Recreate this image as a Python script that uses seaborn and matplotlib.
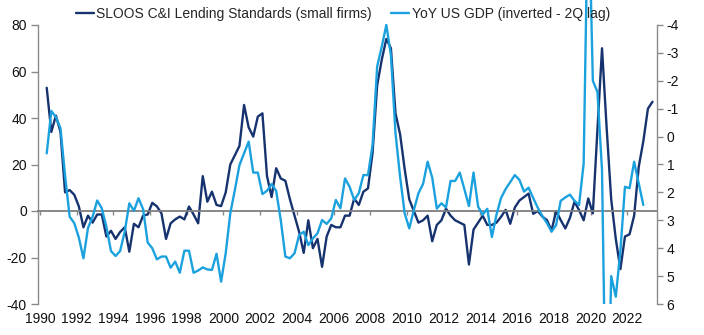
import numpy as np
import pandas as pd
import matplotlib
matplotlib.use("Agg")
import matplotlib.pyplot as plt
from matplotlib.patches import Rectangle
import seaborn as sns

# ---------------- data ----------------
sloos_quarters = pd.period_range("1990Q2", "2023Q2", freq="Q")
sloos_small_firms = [
    53, 34, 41, 34, 8, 9, 7, 2, -7, -2, -5, -1.5, -1.5, -11, -8.5, -12,
    -9, -7, -17.5, -5.5, -7, -2, -1.5, 3.5, 2, -1, -12, -5.3, -3.6, -2.4, -3.6, 1.9,
    -1.5, -5.3, 15, 4, 8.3, 2.6, 2.1, 8, 20, 24, 28, 45.6, 36, 32, 40.6, 42,
    15, 6, 18.4, 14, 13, 5, -2, -9, -18, -4, -16, -12, -24, -11, -6, -7,
    -7, -2, -2, 5.4, 2.6, 8.3, 9.7, 25, 54, 65, 74, 70, 42, 33, 18, 5,
    0, -5, -4, -2, -13, -6, -4, 1, -2, -4, -5, -6, -23, -8, -5, -2,
    -6, -6, -5, -2.5, 0.5, -5.5, 1.5, 4.5, 6, 7.5, -1.2, 0, -2.4, -3.9, -8.4, 0,
    -3.9, -7.5, -3, 4, 0.4, -4, 5.4, -1, 35, 70, 36, 5, -12, -25, -11, -10,
    -2, 19, 30, 44, 47,
]

gdp_quarters = pd.period_range("1990Q2", "2022Q4", freq="Q")
gdp_yoy_lead2q = [
    0.6, -0.92, -0.7, -0.3, 1.4, 2.87, 3.1, 3.62, 4.36, 3.27, 2.87, 2.29, 2.57, 3.23, 4.1, 4.28,
    4.1, 3.4, 2.39, 2.66, 2.21, 2.6, 3.8, 4.0, 4.4, 4.3, 4.3, 4.7, 4.48, 4.88, 4.09, 4.09,
    4.88, 4.8, 4.69, 4.76, 4.78, 4.2, 5.2, 4.18, 2.75, 1.91, 1.02, 0.6, 0.18, 1.29, 1.29, 2.06,
    1.94, 1.7, 1.95, 3.0, 4.3, 4.36, 4.18, 3.53, 3.41, 3.89, 3.65, 3.47, 2.99, 3.13, 2.93, 2.27,
    2.57, 1.5, 1.8, 2.27, 2.03, 1.38, 1.38, 0.3, -2.51, -3.22, -4.0, -2.92, -0.12, 1.44, 2.75, 3.29,
    2.63, 2.03, 1.7, 0.9, 1.47, 2.58, 2.39, 2.54, 1.59, 1.59, 1.29, 1.88, 2.49, 1.29, 2.51, 2.8,
    2.59, 3.6, 2.8, 2.2, 1.88, 1.63, 1.38, 1.55, 1.97, 1.83, 2.2, 2.55, 2.85, 3.1, 3.41, 3.17,
    2.3, 2.18, 2.08, 2.3, 2.45, 0.96, -9.1, -2.0, -1.6, 1.2, 12.0, 5.0, 5.74, 4.1, 1.8, 1.85,
    0.9, 1.67, 2.45,
]

x_years = list(range(1990, 2023, 2))
left_ticks = [-40, -20, 0, 20, 40, 60, 80]
right_ticks = [-4, -3, -2, -1, 0, 1, 2, 3, 4, 5, 6]

label_sloos = "SLOOS C&I Lending Standards (small firms)"
label_gdp = "YoY US GDP (inverted - 2Q lag)"


def qpos(periods):
    return [p.year + (p.quarter - 1) / 4 + 0.125 for p in periods]


df_sloos = pd.DataFrame({"x": qpos(sloos_quarters), "value": sloos_small_firms})
df_gdp = pd.DataFrame({"x": qpos(gdp_quarters), "value": gdp_yoy_lead2q})

# ---------------- style ----------------
NAVY = "#17336F"
LIGHT = "#1BA1DE"
GREY = "#8A8A8A"

sns.set_theme(style="white")
plt.rcParams["font.family"] = ["Liberation Sans", "DejaVu Sans"]
plt.rcParams["axes.unicode_minus"] = False

W, H = 704, 335
fig = plt.figure(figsize=(W / 100, H / 100), dpi=100)
x0, x1, ytop, ybot = 38, 657, 25, 304
ax = fig.add_axes([x0 / W, 1 - ybot / H, (x1 - x0) / W, (ybot - ytop) / H])

sns.lineplot(data=df_sloos, x="x", y="value", ax=ax, color=NAVY, lw=1.7,
             sort=False, legend=False)
ax2 = ax.twinx()
sns.lineplot(data=df_gdp, x="x", y="value", ax=ax2, color=LIGHT, lw=1.7,
             sort=False, legend=False)

ax.set_xlim(1989.9, 2023.62)
ax.set_ylim(-40, 80)
ax2.set_ylim(6, -4)

ax.set_xticks(x_years)
ax.set_xticklabels([str(y) for y in x_years])
ax.set_yticks(left_ticks)
ax.set_yticklabels([str(v) for v in left_ticks])
ax2.set_yticks(right_ticks)
ax2.set_yticklabels([str(v) for v in right_ticks])

for a in (ax, ax2):
    a.set_xlabel("")
    a.set_ylabel("")
    a.grid(False)

ax.tick_params(axis="x", bottom=True, direction="out", length=3, width=1,
               color=GREY, pad=70, labelsize=10, labelcolor="#111111")
ax.tick_params(axis="y", left=True, direction="out", length=5, width=1,
               color=GREY, pad=3, labelsize=10, labelcolor="#111111")
ax2.tick_params(axis="y", right=True, direction="out", length=4, width=1,
                color=GREY, pad=3, labelsize=10, labelcolor="#111111")

ax.spines["top"].set_visible(False)
ax.spines["right"].set_visible(False)
ax.spines["bottom"].set_position(("data", 0))
ax.spines["bottom"].set_color("#7F7F7F")
ax.spines["bottom"].set_linewidth(1.3)
ax.spines["left"].set_color(GREY)
ax.spines["left"].set_linewidth(1.0)
for s in ("top", "bottom", "left"):
    ax2.spines[s].set_visible(False)
ax2.spines["right"].set_color(GREY)
ax2.spines["right"].set_linewidth(1.0)

# light-blue line may run above the plot (to the top of the figure) but not below
line_sloos = ax.get_lines()[0]
line_gdp = ax2.get_lines()[0]
clip = Rectangle((x0 / W, 1 - ybot / H), (x1 - x0) / W, ybot / H,
                 transform=fig.transFigure)
line_gdp.set_clip_path(clip)

fig.legend([line_sloos, line_gdp], [label_sloos, label_gdp], loc="center",
           bbox_to_anchor=(343 / W, 1 - 14 / H), ncol=2, frameon=False,
           fontsize=10, handlelength=1.3, handletextpad=0.15,
           columnspacing=1.4, borderaxespad=0)

fig.savefig("out.png", dpi=100)
